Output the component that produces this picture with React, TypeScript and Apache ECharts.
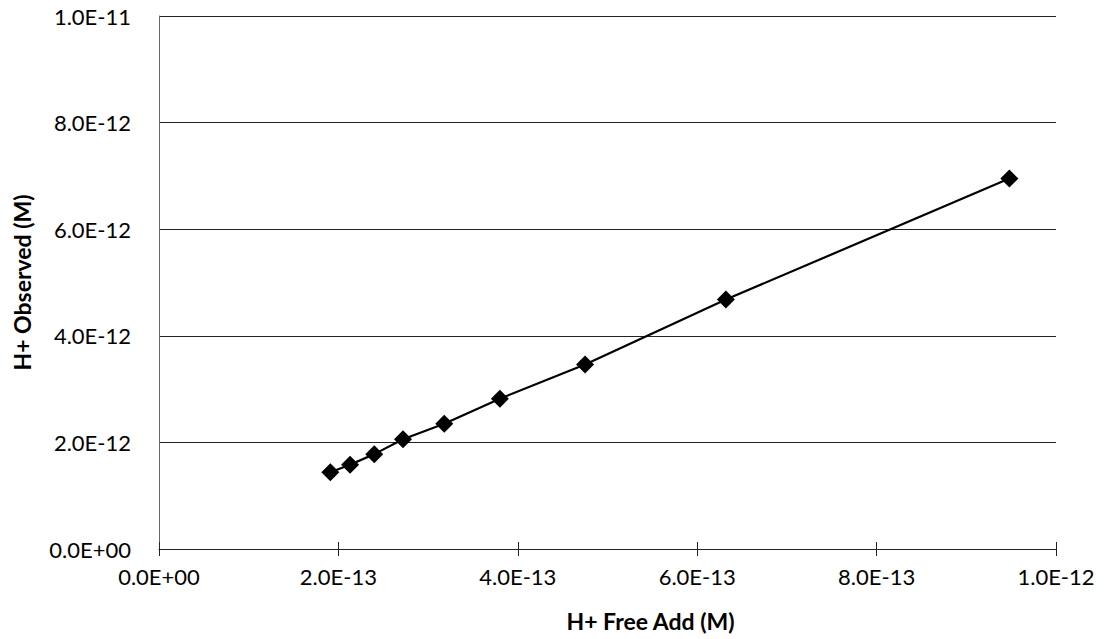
import React, { useEffect, useRef } from "react";
import * as echarts from "echarts";

const xValues = [1.91e-13, 2.13e-13, 2.4e-13, 2.72e-13, 3.18e-13, 3.8e-13, 4.75e-13, 6.32e-13, 9.48e-13];
const yValues = [1.44e-12, 1.58e-12, 1.78e-12, 2.06e-12, 2.35e-12, 2.82e-12, 3.46e-12, 4.68e-12, 6.95e-12];
const xAxisTitle = "H+ Free Add (M)";
const yAxisTitle = "H+ Observed (M)";

const fmt = (v: number) => {
  const s = v.toExponential(1);
  const [m, e] = s.split("e");
  const sign = e[0] === "-" ? "-" : "+";
  const digits = e.replace(/[+-]/, "").padStart(2, "0");
  return `${m}E${sign}${digits}`;
};

const FONT = "Lato, 'Open Sans', sans-serif";

export default function App() {
  const ref = useRef<HTMLDivElement>(null);
  useEffect(() => {
    document.body.style.margin = "0";
    const chart = echarts.init(ref.current!, null, { renderer: "svg" });
    const data = xValues.map((x, i) => [x, yValues[i]]);
    chart.setOption({
      animation: false,
      backgroundColor: "#ffffff",
      grid: { left: 159, right: 49, top: 16, bottom: 90, containLabel: false },
      xAxis: [
        {
          type: "value",
          min: 0,
          max: 1e-12,
          interval: 2e-13,
          name: xAxisTitle,
          nameLocation: "middle",
          nameGap: 60,
          nameTextStyle: { fontFamily: FONT, fontWeight: "bold", fontSize: 23, color: "#000", padding: [0, 0, 0, 86] },
          axisLine: { show: true, lineStyle: { color: "#222", width: 1.2 } },
          axisTick: { show: true, length: 7, lineStyle: { color: "#222" } },
          axisLabel: { formatter: fmt, fontFamily: FONT, fontSize: 22, color: "#000", margin: 16 },
          splitLine: { show: false },
        },
        {
          type: "value",
          min: 0,
          max: 1e-12,
          interval: 2e-13,
          position: "bottom",
          axisLine: { show: false },
          axisTick: { show: true, inside: true, length: 7, lineStyle: { color: "#222" } },
          axisLabel: { show: false },
          splitLine: { show: false },
        },
      ],
      yAxis: {
        type: "value",
        min: 0,
        max: 1e-11,
        interval: 2e-12,
        name: yAxisTitle,
        nameLocation: "middle",
        nameGap: 126,
        nameTextStyle: { fontFamily: FONT, fontWeight: "bold", fontSize: 23, color: "#000" },
        axisLine: { show: true, lineStyle: { color: "#666", width: 1 } },
        axisTick: { show: false },
        axisLabel: { formatter: fmt, fontFamily: FONT, fontSize: 22, color: "#000", margin: 28 },
        splitLine: { show: true, lineStyle: { color: "#222", width: 1.2 } },
      },
      series: [
        {
          type: "line",
          data,
          symbol: "diamond",
          symbolSize: 18,
          lineStyle: { color: "#000", width: 2.2 },
          itemStyle: { color: "#000" },
        },
      ],
    });
    return () => chart.dispose();
  }, []);
  return <div ref={ref} style={{ width: 1105, height: 639 }} />;
}
